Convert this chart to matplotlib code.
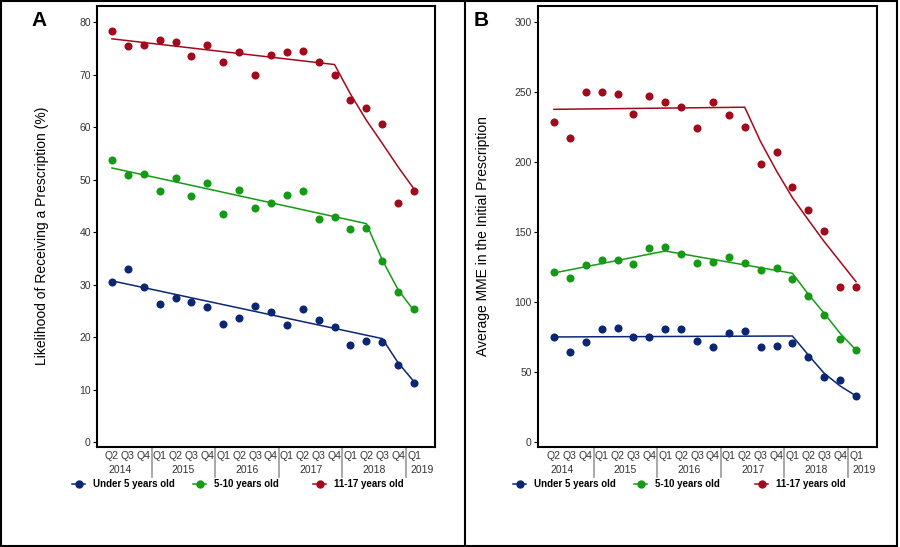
import matplotlib
matplotlib.use('Agg')
import matplotlib.pyplot as plt
from matplotlib.lines import Line2D
from matplotlib.patches import Rectangle
from matplotlib.transforms import blended_transform_factory

plt.rcParams['font.family'] = ['Liberation Sans', 'DejaVu Sans']

# x axis: quarters from Q2 2014 to Q1 2019
quarters = ['Q2', 'Q3', 'Q4',
            'Q1', 'Q2', 'Q3', 'Q4',
            'Q1', 'Q2', 'Q3', 'Q4',
            'Q1', 'Q2', 'Q3', 'Q4',
            'Q1', 'Q2', 'Q3', 'Q4',
            'Q1']
years = ['2014', '2015', '2016', '2017', '2018', '2019']
year_pos = [0.5, 4.5, 8.5, 12.5, 16.5, 19.5]
year_breaks = [2.5, 6.5, 10.5, 14.5, 18.5]

groups = ['Under 5 years old', '5-10 years old', '11-17 years old']
colors = ['#0b2673', '#149a14', '#a20a1c']

# Panel A: likelihood of receiving a prescription (%)
a_under5 = [30.4, 33.0, 29.5, 26.2, 27.4, 26.6, 25.7, 22.5, 23.6, 26.0,
            24.7, 22.2, 25.4, 23.3, 22.0, 18.5, 19.3, 19.1, 14.7, 11.3]
a_5to10 = [53.8, 50.9, 51.0, 47.8, 50.3, 46.8, 49.3, 43.4, 48.0, 44.5,
           45.5, 47.1, 47.9, 42.5, 42.9, 40.6, 40.8, 34.5, 28.5, 25.4]
a_11to17 = [78.2, 75.5, 75.7, 76.5, 76.1, 73.5, 75.6, 72.3, 74.2, 70.0,
            73.7, 74.2, 74.5, 72.3, 70.0, 65.1, 63.6, 60.6, 45.5, 47.9]

# fitted segmented trends (quarter index, value)
fit_a_under5_x = [0, 17, 18, 19]
fit_a_under5 = [30.7, 19.7, 15.1, 11.5]
fit_a_5to10_x = [0, 16, 17, 18, 19]
fit_a_5to10 = [52.2, 41.6, 34.7, 29.0, 25.0]
fit_a_11to17_x = [0, 14, 15, 16, 17, 18, 19]
fit_a_11to17 = [76.8, 71.9, 66.3, 61.3, 56.9, 52.4, 48.2]

# Panel B: average MME in the initial prescription
b_under5 = [75.0, 64.1, 71.4, 80.7, 81.7, 75.2, 74.8, 80.5, 80.9, 71.9,
            67.9, 78.1, 79.1, 67.6, 68.8, 70.7, 60.7, 46.6, 44.5, 32.9]
b_5to10 = [121.2, 116.9, 126.2, 130.0, 130.0, 127.1, 138.8, 139.3, 134.1, 127.9,
           128.8, 131.9, 128.1, 122.9, 124.5, 116.4, 104.5, 90.9, 73.3, 65.7]
b_11to17 = [228.6, 216.9, 250.0, 250.0, 248.6, 234.0, 246.9, 242.6, 239.0, 224.3,
            243.1, 233.3, 225.2, 198.4, 207.4, 181.9, 165.7, 150.5, 110.9, 110.5]

fit_b_under5_x = [0, 15, 16, 17, 18, 19]
fit_b_under5 = [75.0, 75.7, 62.1, 49.0, 40.0, 32.9]
fit_b_5to10_x = [0, 7, 15, 16, 17, 18, 19]
fit_b_5to10 = [120.7, 136.4, 120.5, 105.5, 91.9, 77.6, 65.7]
fit_b_11to17_x = [0, 12, 13, 14, 15, 16, 17, 18, 19]
fit_b_11to17 = [237.6, 239.1, 214.5, 193.6, 174.5, 158.6, 143.1, 128.8, 114.5]

W, H = 900, 547
fig = plt.figure(figsize=(9, 5.47), dpi=100)


def draw_panel(ax, series, fits, yticks, ylim, xlim):
    x = list(range(len(quarters)))
    for vals, (fx, fy), c in zip(series, fits, colors):
        ax.plot(fx, fy, color=c, lw=1.1, zorder=2)
        ax.plot(x, vals, 'o', color=c, ms=5.8, mec=c, mew=0, zorder=3)
    ax.set_xlim(*xlim)
    ax.set_ylim(*ylim)
    ax.set_yticks(yticks)
    ax.set_xticks([])
    ax.tick_params(axis='y', length=3, width=0.8, pad=1.5, labelsize=7.5,
                   labelcolor='#333333')
    for s in ax.spines.values():
        s.set_linewidth(1.5)
    tr = blended_transform_factory(ax.transData, ax.transAxes)
    for i, q in enumerate(quarters):
        ax.text(i, -0.021, q, transform=tr, ha='center', va='center',
                fontsize=7.5, color='#333333', clip_on=False)
    for yr, p in zip(years, year_pos):
        ax.text(p, -0.053, yr, transform=tr, ha='center', va='center',
                fontsize=7.5, color='#333333', clip_on=False)
    for b in year_breaks:
        ax.plot([b, b], [0, -0.068], transform=tr, color='#999999', lw=1.2,
                clip_on=False)


axA = fig.add_axes([97 / W, 1 - 447 / H, 338 / W, 441 / H])
draw_panel(axA, [a_under5, a_5to10, a_11to17],
           [(fit_a_under5_x, fit_a_under5), (fit_a_5to10_x, fit_a_5to10),
            (fit_a_11to17_x, fit_a_11to17)],
           range(0, 81, 10), (-0.95, 83.05), (-0.94, 20.32))

axB = fig.add_axes([538 / W, 1 - 447 / H, 339 / W, 441 / H])
draw_panel(axB, [b_under5, b_5to10, b_11to17],
           [(fit_b_under5_x, fit_b_under5), (fit_b_5to10_x, fit_b_5to10),
            (fit_b_11to17_x, fit_b_11to17)],
           range(0, 301, 50), (-3.6, 311.4), (-1.0, 20.32))

fig.text(42 / W, 1 - 236 / H, 'Likelihood of Receiving a Prescription (%)',
         rotation=90, ha='center', va='center', fontsize=10)
fig.text(483 / W, 1 - 236 / H, 'Average MME in the Initial Prescription',
         rotation=90, ha='center', va='center', fontsize=10)
fig.text(39.5 / W, 1 - 20 / H, 'A', ha='center', va='center', fontsize=15,
         fontweight='bold')
fig.text(481 / W, 1 - 20 / H, 'B', ha='center', va='center', fontsize=15,
         fontweight='bold')

# legends, one entry each so the spacing follows the original
legend_x = [[72, 193, 313], [513, 634, 755]]
for row in legend_x:
    for px, lab, c in zip(row, groups, colors):
        h = Line2D([], [], color=c, lw=1.1, marker='o', ms=5)
        fig.legend([h], [lab], loc='center left',
                   bbox_to_anchor=(px / W, 1 - 484 / H), frameon=False,
                   borderpad=0, borderaxespad=0, handlelength=1.35,
                   handletextpad=0.8, prop={'size': 7, 'weight': 'bold'})

# outer frame and divider
fig.add_artist(Rectangle((0.001, 0.002), 0.996, 0.996, transform=fig.transFigure,
                         fill=False, ec='black', lw=1.5))
fig.add_artist(Line2D([465 / W, 465 / W], [0.002, 0.998],
                      transform=fig.transFigure, color='black', lw=1.5))

fig.savefig('out.png', dpi=100)
